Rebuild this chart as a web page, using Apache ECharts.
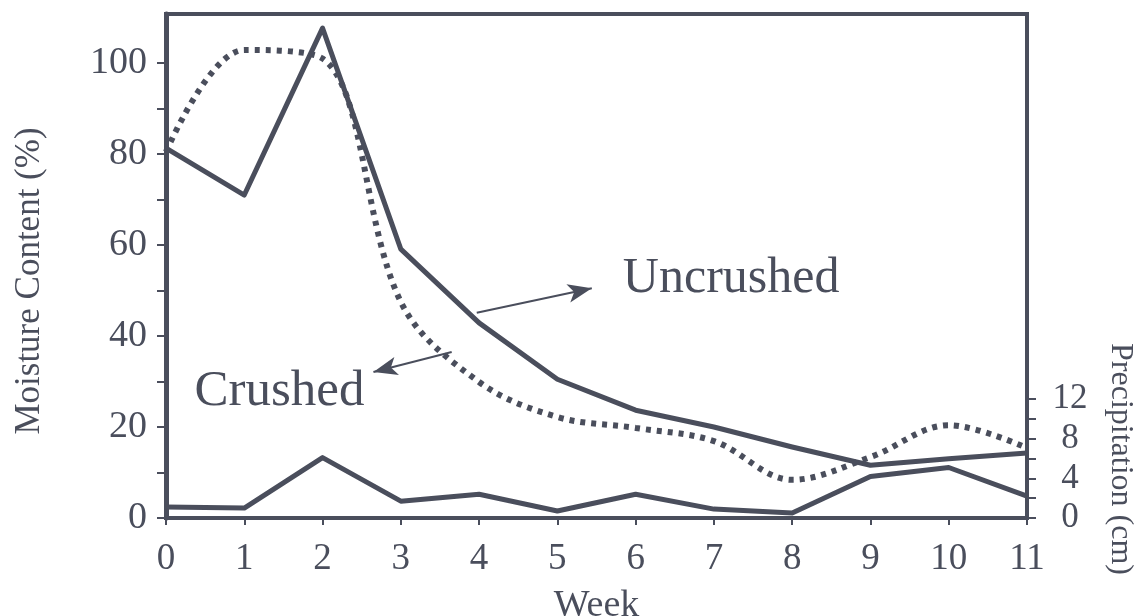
<!DOCTYPE html>
<html>
<head>
<meta charset="utf-8">
<title>Moisture Content and Precipitation by Week</title>
<script src="https://cdn.jsdelivr.net/npm/echarts@6/dist/echarts.min.js"></script>
<style>
  html, body { margin: 0; padding: 0; background: #ffffff; }
  #chart { width: 1137px; height: 616px; }
</style>
</head>
<body>
<div id="chart"></div>
<script>
// Weekly readings
const weeks = [0, 1, 2, 3, 4, 5, 6, 7, 8, 9, 10, 11];
const uncrushed = [81.3, 71, 107.7, 59.1, 42.9, 30.5, 23.7, 20, 15.6, 11.6, 13, 14.3];
const crushed = [80.5, 102.9, 101, 47.5, 29.9, 22.2, 19.8, 16.9, 8.4, 13.4, 20.4, 15.4];
const precipitation = [1.1, 1.0, 6.1, 1.7, 2.4, 0.7, 2.4, 0.9, 0.5, 4.2, 5.1, 2.2];

// Axis tick values
const moistureLabels = [0, 20, 40, 60, 80, 100];
const moistureTicks = [0, 10, 20, 30, 40, 50, 60, 70, 80, 90, 100];
const precipLabels = [0, 4, 8, 12];
const precipTicks = [0, 2, 4, 6, 8, 10, 12];

const INK = '#4a4e5c';
const FONT = '"Liberation Serif", "Times New Roman", serif';

const pairs = (ys) => weeks.map((w, i) => [w, ys[i]]);

const chart = echarts.init(document.getElementById('chart'), null, { renderer: 'canvas' });

chart.setOption({
  backgroundColor: '#ffffff',
  animation: false,
  grid: {
    left: 166, right: 110, top: 14, bottom: 98,
    outerBoundsMode: 'none', containLabel: false,
    show: true, borderColor: INK, borderWidth: 4, backgroundColor: 'transparent'
  },
  xAxis: {
    type: 'value', min: 0, max: 11, interval: 1,
    name: 'Week', nameLocation: 'middle', nameGap: 69,
    nameTextStyle: { color: INK, fontFamily: FONT, fontSize: 38 },
    axisLine: { lineStyle: { color: INK, width: 4 } },
    axisTick: { length: 7, lineStyle: { color: INK, width: 2 } },
    axisLabel: { color: INK, fontFamily: FONT, fontSize: 37, margin: 23 },
    splitLine: { show: false }
  },
  yAxis: [
    {
      type: 'value', min: 0, max: 110.8, interval: 20, position: 'left',
      axisLine: { show: true, lineStyle: { color: INK, width: 5 } },
      axisTick: { show: true, length: 9, customValues: moistureTicks, lineStyle: { color: INK, width: 2 } },
      axisLabel: { color: INK, fontFamily: FONT, fontSize: 38, margin: 19, customValues: moistureLabels },
      splitLine: { show: false }
    },
    {
      type: 'value', min: 0, max: 50.9, interval: 2, position: 'right',
      axisLine: { show: true, lineStyle: { color: INK, width: 4 } },
      axisTick: { show: true, length: 9, customValues: precipTicks, lineStyle: { color: INK, width: 2 } },
      axisLabel: { color: INK, fontFamily: FONT, fontSize: 35, margin: 43, align: 'center', customValues: precipLabels },
      splitLine: { show: false }
    }
  ],
  graphic: [
    {
      type: 'text', x: 30, y: 281, rotation: Math.PI / 2,
      style: { text: 'Moisture Content (%)', fill: INK, font: '35px ' + FONT, textAlign: 'center', textVerticalAlign: 'middle' }
    },
    {
      type: 'text', x: 1120, y: 459, rotation: -Math.PI / 2,
      style: { text: 'Precipitation (cm)', fill: INK, font: '32px ' + FONT, textAlign: 'center', textVerticalAlign: 'middle' }
    }
  ],
  series: [
    {
      name: 'Uncrushed', type: 'line', yAxisIndex: 0, data: pairs(uncrushed),
      symbol: 'none', lineStyle: { color: INK, width: 5, join: 'round' },
      markLine: {
        silent: true, symbol: ['none', 'arrow'], symbolSize: [14, 24],
        lineStyle: { color: INK, width: 2, type: 'solid' }, label: { show: false },
        data: [[{ coord: [3.97, 45.1] }, { coord: [5.44, 50.5] }]]
      },
      markPoint: {
        symbol: 'circle', symbolSize: 0, silent: true,
        label: { show: true, position: 'inside', formatter: 'Uncrushed', color: INK, fontFamily: FONT, fontSize: 50 },
        data: [{ coord: [7.22, 52.5] }]
      }
    },
    {
      name: 'Crushed', type: 'line', yAxisIndex: 0, data: pairs(crushed),
      symbol: 'none', smooth: 0.35,
      lineStyle: { color: INK, width: 6, type: [5, 6], cap: 'butt' },
      markLine: {
        silent: true, symbol: ['none', 'arrow'], symbolSize: [14, 24],
        lineStyle: { color: INK, width: 2, type: 'solid' }, label: { show: false },
        data: [[{ coord: [3.65, 36.5] }, { coord: [2.65, 32.1] }]]
      },
      markPoint: {
        symbol: 'circle', symbolSize: 0, silent: true,
        label: { show: true, position: 'inside', formatter: 'Crushed', color: INK, fontFamily: FONT, fontSize: 51 },
        data: [{ coord: [1.45, 27.8] }]
      }
    },
    {
      name: 'Precipitation', type: 'line', yAxisIndex: 1, data: pairs(precipitation),
      symbol: 'none', lineStyle: { color: INK, width: 5, join: 'round' }
    }
  ]
});
</script>
</body>
</html>
